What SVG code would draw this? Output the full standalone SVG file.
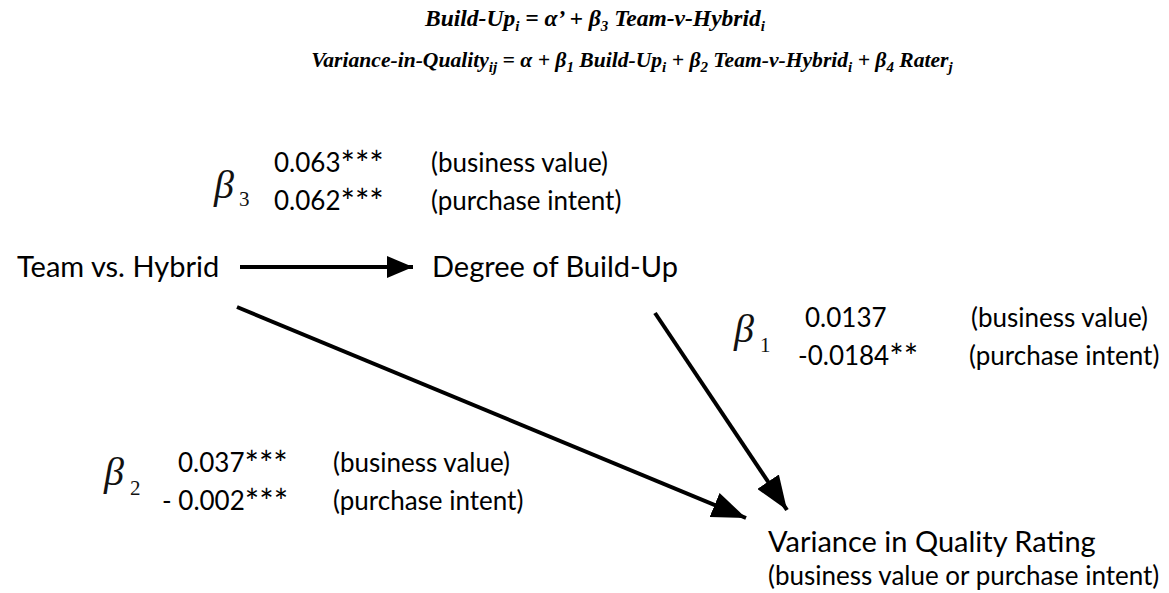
<svg xmlns="http://www.w3.org/2000/svg" width="1169" height="593" viewBox="0 0 1169 593">
<style>
.eq{font-family:"Liberation Serif",serif;font-weight:bold;font-style:italic;fill:#000}
.s{font-size:15px}
.lbl{font-family:Lato,"Noto Sans",sans-serif;font-size:29px;fill:#000}
.val{font-family:Lato,"Noto Sans",sans-serif;font-size:26px;fill:#000}
.ast{font-size:34px}
.beta{font-family:"Liberation Serif",serif;font-style:italic;font-size:40px;fill:#111}
.sub{font-family:"Liberation Serif",serif;font-size:21px;fill:#111}
.edge{stroke:#000;stroke-width:4;fill:none}
</style>
<defs>
<marker id="ah" markerUnits="userSpaceOnUse" viewBox="0 0 26 22" refX="26" refY="11" markerWidth="26" markerHeight="22" orient="auto">
<path d="M0,0 L26,11 L0,22 Z" fill="#000"/>
</marker>
<marker id="ahd" markerUnits="userSpaceOnUse" viewBox="0 0 34 26" refX="34" refY="13" markerWidth="34" markerHeight="26" orient="auto">
<path d="M0,0 L34,13 L0,26 Z" fill="#000"/>
</marker>
</defs>
<g id="equations">
<text class="eq" x="595" y="26" font-size="23.5" text-anchor="middle">Build-Up<tspan class="s" dy="5">i</tspan><tspan dy="-5"> = α’ + β</tspan><tspan class="s" dy="5">3</tspan><tspan dy="-5"> Team-v-Hybrid</tspan><tspan class="s" dy="5">i</tspan></text>
<text class="eq" x="632" y="67" font-size="21.6" text-anchor="middle">Variance-in-Quality<tspan class="s" dy="5">ij</tspan><tspan dy="-5"> = α + β</tspan><tspan class="s" dy="5">1</tspan><tspan dy="-5"> Build-Up</tspan><tspan class="s" dy="5">i</tspan><tspan dy="-5"> + β</tspan><tspan class="s" dy="5">2</tspan><tspan dy="-5"> Team-v-Hybrid</tspan><tspan class="s" dy="5">i</tspan><tspan dy="-5"> + β</tspan><tspan class="s" dy="5">4</tspan><tspan dy="-5"> Rater</tspan><tspan class="s" dy="5">j</tspan></text>
</g>
<g id="connectors">
<line class="edge" x1="240" y1="267" x2="413" y2="267" marker-end="url(#ah)"/>
<line class="edge" x1="237" y1="307" x2="746" y2="518" marker-end="url(#ahd)"/>
<line class="edge" x1="655" y1="313" x2="787" y2="510" marker-end="url(#ahd)"/>
</g>
<g id="team">
<text class="lbl" x="17" y="277">Team vs. Hybrid</text>
</g>
<g id="buildup">
<text class="lbl" x="432" y="277">Degree of Build-Up</text>
</g>
<g id="variance">
<text class="lbl" x="768" y="552">Variance in Quality Rating</text>
<text class="val" x="768" y="585">(business value or purchase intent)</text>
</g>
<g id="beta3">
<text class="beta" x="214" y="198">β</text><text class="sub" x="239" y="206">3</text>
<text class="val" x="274" y="172">0.063<tspan class="ast" dy="4">***</tspan></text>
<text class="val" x="431" y="172">(business value)</text>
<text class="val" x="274" y="210">0.062<tspan class="ast" dy="4">***</tspan></text>
<text class="val" x="431" y="210">(purchase intent)</text>
</g>
<g id="beta1">
<text class="beta" x="734" y="342">β</text><text class="sub" x="760" y="352">1</text>
<text class="val" x="805" y="327">0.0137</text>
<text class="val" x="971" y="327">(business value)</text>
<text class="val" x="798" y="365">-0.0184<tspan class="ast" dy="4">**</tspan></text>
<text class="val" x="969" y="365">(purchase intent)</text>
</g>
<g id="beta2">
<text class="beta" x="104" y="485">β</text><text class="sub" x="130" y="495">2</text>
<text class="val" x="178" y="472">0.037<tspan class="ast" dy="4">***</tspan></text>
<text class="val" x="333" y="472">(business value)</text>
<text class="val" x="162" y="510">- 0.002<tspan class="ast" dy="4">***</tspan></text>
<text class="val" x="333" y="510">(purchase intent)</text>
</g>
</svg>
